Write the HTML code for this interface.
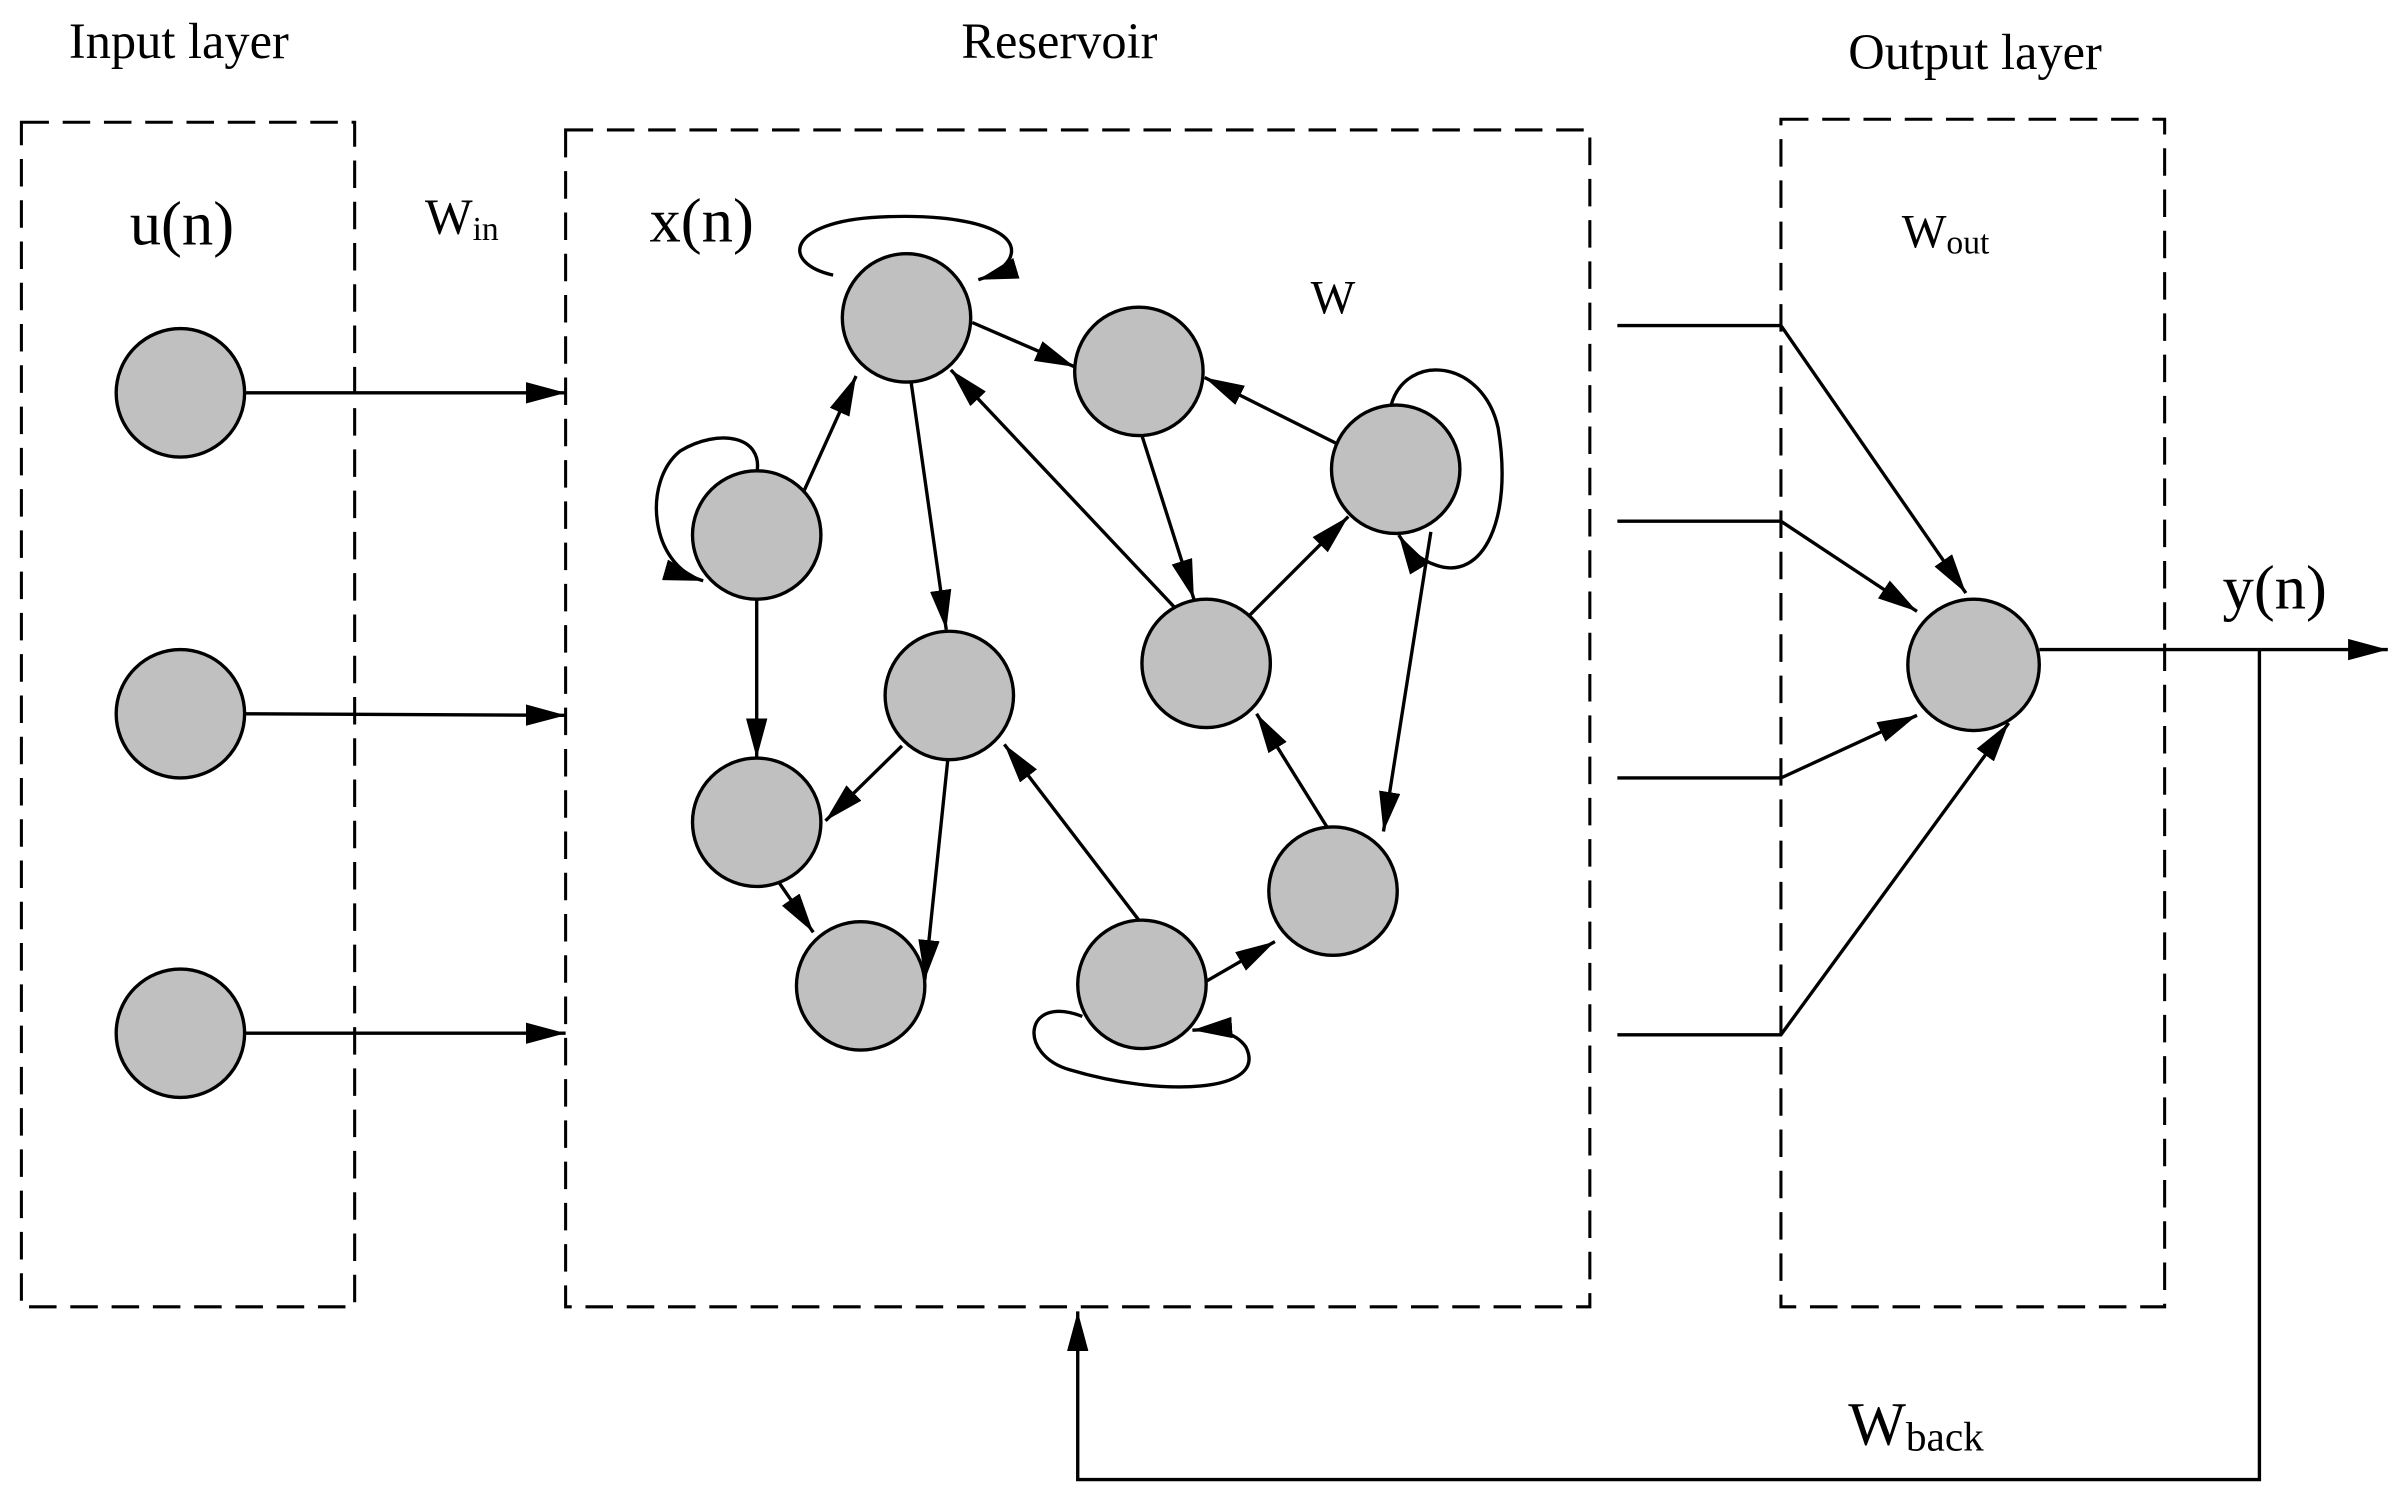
<!DOCTYPE html>
<html><head><meta charset="utf-8"><style>
html,body{margin:0;padding:0;background:#fff;}
svg{display:block;}
text{font-family:"Liberation Serif",serif;fill:#000;}
</style></head><body>
<svg width="2397" height="1504" viewBox="0 0 1568 984" preserveAspectRatio="none" xmlns="http://www.w3.org/2000/svg">
<defs>
<marker id="ab" viewBox="0 0 10 10" refX="10" refY="5" markerWidth="26" markerHeight="14" markerUnits="userSpaceOnUse" orient="auto" preserveAspectRatio="none">
<path d="M0,0 L10,5 L0,10 z" fill="#000"/></marker>
</defs>
<g fill="none" stroke="#000" stroke-width="2" stroke-dasharray="18,9">
<rect x="14" y="80" width="218" height="775"/>
<rect x="370" y="85" width="670" height="770"/>
<rect x="1165" y="78" width="251" height="777"/>
</g>
<g stroke="#000" stroke-width="2.2" fill="none">
<line x1="160" y1="257" x2="370" y2="257" marker-end="url(#ab)"/>
<line x1="160" y1="467" x2="370" y2="468" marker-end="url(#ab)"/>
<line x1="160" y1="676" x2="370" y2="676" marker-end="url(#ab)"/>
<line x1="636" y1="211" x2="703" y2="240" marker-end="url(#ab)"/>
<line x1="596" y1="250" x2="619" y2="412" marker-end="url(#ab)"/>
<line x1="526" y1="321" x2="560" y2="246" marker-end="url(#ab)"/>
<line x1="495" y1="392" x2="495" y2="496" marker-end="url(#ab)"/>
<line x1="768" y1="397" x2="622" y2="242" marker-end="url(#ab)"/>
<line x1="747" y1="285" x2="781" y2="392" marker-end="url(#ab)"/>
<line x1="874" y1="290" x2="788" y2="247" marker-end="url(#ab)"/>
<line x1="817" y1="403" x2="882" y2="338" marker-end="url(#ab)"/>
<line x1="936" y1="348" x2="905" y2="544" marker-end="url(#ab)"/>
<line x1="868" y1="541" x2="822" y2="467" marker-end="url(#ab)"/>
<line x1="590" y1="488" x2="540" y2="537" marker-end="url(#ab)"/>
<line x1="620" y1="497" x2="605" y2="641" marker-end="url(#ab)"/>
<line x1="510" y1="578" x2="532" y2="610" marker-end="url(#ab)"/>
<line x1="745" y1="602" x2="657" y2="487" marker-end="url(#ab)"/>
<line x1="789" y1="642" x2="834" y2="616" marker-end="url(#ab)"/>
<path d="M545,180 C510,172 515,145 575,142 C635,139 670,152 660,170 C656,176 650,180 640,183" marker-end="url(#ab)"/>
<path d="M495,310 C500,285 470,280 445,295 C420,315 425,370 460,380" marker-end="url(#ab)"/>
<path d="M910,265 C920,230 970,235 980,280 C990,340 970,380 940,370 C925,365 918,355 915,350" marker-end="url(#ab)"/>
<path d="M708,665 C670,650 665,690 700,700 C760,718 830,715 815,685 C808,675 795,673 780,674" marker-end="url(#ab)"/>
<polyline points="1058,213 1165,213 1286,388" marker-end="url(#ab)"/>
<polyline points="1058,341 1165,341 1254,400" marker-end="url(#ab)"/>
<polyline points="1058,509 1165,509 1254,468" marker-end="url(#ab)"/>
<polyline points="1058,677 1165,677 1314,473" marker-end="url(#ab)"/>
<line x1="1334" y1="425" x2="1562" y2="425" marker-end="url(#ab)"/>
<polyline points="1478,425 1478,968 705,968 705,858" marker-end="url(#ab)"/>
</g>
<g fill="#c0c0c0" stroke="#000" stroke-width="2.2">
<circle cx="118" cy="257" r="42"/><circle cx="118" cy="467" r="42"/><circle cx="118" cy="676" r="42"/>
<circle cx="593" cy="208" r="42"/><circle cx="745" cy="243" r="42"/><circle cx="495" cy="350" r="42"/>
<circle cx="913" cy="307" r="42"/><circle cx="621" cy="455" r="42"/><circle cx="789" cy="434" r="42"/>
<circle cx="495" cy="538" r="42"/><circle cx="872" cy="583" r="42"/><circle cx="563" cy="645" r="42"/>
<circle cx="747" cy="644" r="42"/><circle cx="1291" cy="435" r="43"/>
</g>
<g text-anchor="middle">
<text x="117" y="38" font-size="33">Input layer</text>
<text x="693" y="38" font-size="33">Reservoir</text>
<text x="1292" y="45" font-size="33">Output layer</text>
<text x="119" y="160" font-size="41">u(n)</text>
<text x="459" y="158" font-size="41">x(n)</text>
<text x="872" y="205" font-size="31">W</text>
<text x="1488" y="398" font-size="41">y(n)</text>
</g>
<text x="278" y="153" font-size="33">W<tspan font-size="22" dy="4">in</tspan></text>
<text x="1244" y="162" font-size="31">W<tspan font-size="22" dy="4">out</tspan></text>
<text x="1209" y="945" font-size="40">W<tspan font-size="27" dy="4">back</tspan></text>
</svg>
</body></html>
